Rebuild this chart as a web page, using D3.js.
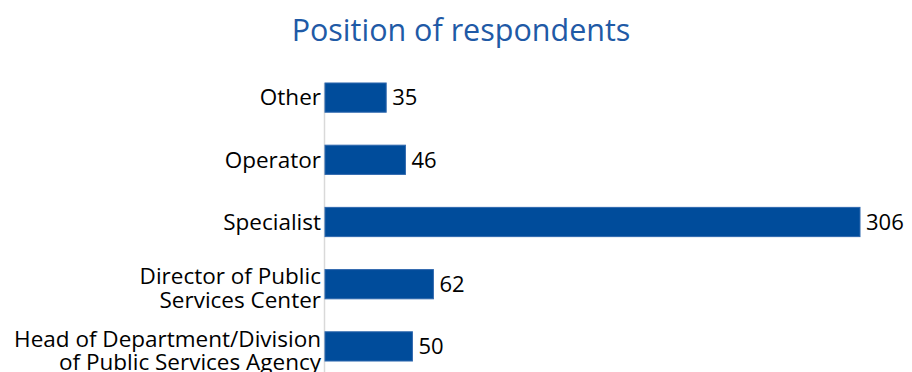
<!DOCTYPE html>
<html>
<head>
<meta charset="utf-8">
<script src="https://cdn.jsdelivr.net/npm/d3@7"></script>
<style>
  html, body { margin: 0; padding: 0; background: #fff; }
  svg { display: block; font-family: "Open Sans", "Noto Sans", sans-serif; }
</style>
</head>
<body>
<svg id="chart" width="912" height="372"></svg>
<script>
// Respondents by position
const categories = [
  "Other",
  "Operator",
  "Specialist",
  "Director of Public|Services Center",
  "Head of Department/Division|of Public Services Agency"
];
const counts = [35, 46, 306, 62, 50];
const chartTitle = "Position of respondents";

const data = categories.map((c, i) => ({ label: c, value: counts[i] }));

const W = 912, H = 372;
const svg = d3.select("#chart");

const x = d3.scaleLinear().domain([0, 306]).range([325, 860]);
const y = d3.scaleBand()
  .domain(categories)
  .range([66.5, 377.5])
  .paddingInner(0.53)
  .paddingOuter(0.265);

// Title
svg.append("text")
  .attr("x", 461)
  .attr("y", 41)
  .attr("text-anchor", "middle")
  .attr("fill", "#1f5aa6")
  .style("font-size", "30.5px")
  .text(chartTitle);

// Category axis line
svg.append("line")
  .attr("x1", 324.5).attr("x2", 324.5)
  .attr("y1", y(categories[0])).attr("y2", H)
  .attr("stroke", "#d9d9d9")
  .attr("stroke-width", 1.5);

// Bars
svg.append("g").selectAll("rect")
  .data(data)
  .join("rect")
  .attr("x", x(0))
  .attr("y", d => y(d.label))
  .attr("width", d => x(d.value) - x(0))
  .attr("height", y.bandwidth())
  .attr("fill", "#004c9b")
  .attr("stroke", "#2f68ae")
  .attr("stroke-width", 1);

// Value labels
svg.append("g").selectAll("text")
  .data(data)
  .join("text")
  .attr("x", d => x(d.value) + 6)
  .attr("y", d => y(d.label) + y.bandwidth() / 2)
  .attr("dy", "0.35em")
  .attr("fill", "#000")
  .style("font-size", "22px")
  .text(d => d.value);

// Category labels (multi-line where needed)
const labels = svg.append("g").selectAll("text")
  .data(data)
  .join("text")
  .attr("text-anchor", "end")
  .attr("fill", "#000")
  .style("font-size", "22.5px")
  .attr("transform", d => {
    const multi = d.label.includes("|") ? 4 : 0;
    return `translate(321, ${y(d.label) + y.bandwidth() / 2 + multi})`;
  });

labels.each(function(d) {
  const lines = d.label.split("|");
  const t = d3.select(this);
  const lh = 23.5;
  lines.forEach((ln, i) => {
    t.append("tspan")
      .attr("x", 0)
      .attr("y", (i - (lines.length - 1) / 2) * lh)
      .attr("dy", "0.35em")
      .text(ln);
  });
});
</script>
</body>
</html>
